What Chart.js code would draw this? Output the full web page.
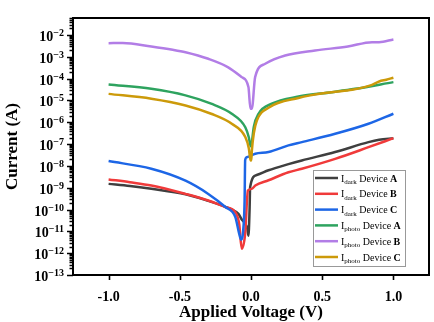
<!DOCTYPE html>
<html>
<head>
<meta charset="utf-8">
<script src="https://cdn.jsdelivr.net/npm/chart.js@4.4.0/dist/chart.umd.min.js"></script>
<style>
  html, body { margin: 0; padding: 0; background: #fff; }
</style>
</head>
<body>
<canvas id="ivChart" width="434" height="322"></canvas>
<script>
// I-V sweeps, voltage in V, current in A
const voltsDarkA = [-1.0, -0.85, -0.7, -0.46, -0.3, -0.2, -0.135, -0.088, -0.065, -0.045, -0.033, -0.025, -0.018, -0.01, -0.006, 0.04, 0.123, 0.263, 0.357, 0.591, 0.825, 0.9, 1.0];
const currDarkA  = [1.5e-9, 1.2e-9, 8.9e-10, 5.0e-10, 2.5e-10, 1.5e-10, 1.0e-10, 6.3e-11, 3.5e-11, 2.5e-11, 1.8e-11, 1.26e-11, 6.3e-12, 1.0e-10, 1.07e-9, 3.8e-9, 6.3e-9, 1.2e-8, 1.78e-8, 4.3e-8, 1.23e-7, 1.58e-7, 1.86e-7];

const voltsDarkB = [-1.0, -0.85, -0.7, -0.46, -0.3, -0.18, -0.11, -0.083, -0.065, -0.041, -0.022, 0.006, 0.03, 0.123, 0.263, 0.357, 0.591, 0.825, 1.0];
const currDarkB  = [2.4e-9, 1.78e-9, 1.26e-9, 5.2e-10, 2.6e-10, 1.3e-10, 7.6e-11, 2.2e-11, 1.6e-12, 7.8e-12, 7.4e-10, 8.9e-10, 1.26e-9, 2.2e-9, 5.1e-9, 7.4e-9, 2.1e-8, 7.2e-8, 1.86e-7];

const voltsDarkC = [-1.0, -0.7, -0.46, -0.3, -0.18, -0.11, -0.083, -0.069, -0.053, -0.045, -0.041, -0.03, 0.03, 0.123, 0.263, 0.357, 0.591, 0.825, 1.0];
const currDarkC  = [1.66e-8, 7.4e-9, 2.1e-9, 5.2e-10, 1.3e-10, 4.5e-11, 7.8e-12, 4.1e-12, 1.55e-11, 2.5e-10, 1.8e-8, 2.5e-8, 3.6e-8, 4.3e-8, 8.7e-8, 1.23e-7, 2.95e-7, 8.5e-7, 2.45e-6];

const voltsPhotoA = [-1.0, -0.7, -0.46, -0.28, -0.135, -0.04, -0.015, -0.002, 0.004, 0.02, 0.053, 0.146, 0.333, 0.567, 0.73, 1.0];
const currPhotoA  = [5.4e-5, 3.4e-5, 1.7e-5, 7.1e-6, 2.45e-6, 5.9e-7, 2.0e-7, 7.9e-8, 1.0e-7, 6.3e-7, 2.45e-6, 7.1e-6, 1.5e-5, 2.4e-5, 3.4e-5, 6.9e-5];

const voltsPhotoB = [-1.0, -0.9, -0.7, -0.55, -0.46, -0.3, -0.16, -0.065, -0.018, -0.004, 0.006, 0.029, 0.1, 0.24, 0.45, 0.68, 0.85, 0.9, 1.0];
const currPhotoB  = [4.2e-3, 4.3e-3, 2.95e-3, 2.1e-3, 1.62e-3, 8.1e-4, 3.3e-4, 1.17e-4, 4.1e-5, 4.2e-6, 4.2e-6, 1.17e-4, 4.8e-4, 1.15e-3, 1.95e-3, 2.95e-3, 4.7e-3, 4.7e-3, 6.2e-3];

const voltsPhotoC = [-1.0, -0.7, -0.46, -0.28, -0.135, -0.04, -0.015, -0.003, 0.002, 0.006, 0.02, 0.041, 0.123, 0.333, 0.567, 0.71, 0.85, 0.9, 0.95, 1.0];
const currPhotoC  = [2.0e-5, 1.2e-5, 5.9e-6, 2.45e-6, 8.5e-7, 2.1e-7, 6.3e-8, 1.78e-8, 1.78e-8, 5.0e-8, 3.2e-7, 1.2e-6, 4.6e-6, 1.3e-5, 2.4e-5, 3.1e-5, 5.2e-5, 7.4e-5, 8.9e-5, 1.1e-4];

const seriesKind   = ['dark', 'dark', 'dark', 'photo', 'photo', 'photo'];
const seriesDevice = ['A', 'B', 'C', 'A', 'B', 'C'];
const xTickValues  = [-1.0, -0.5, 0.0, 0.5, 1.0];
const yDecades     = [-13, -12, -11, -10, -9, -8, -7, -6, -5, -4, -3, -2];

const seriesVolts = [voltsDarkA, voltsDarkB, voltsDarkC, voltsPhotoA, voltsPhotoB, voltsPhotoC];
const seriesCurr  = [currDarkA, currDarkB, currDarkC, currPhotoA, currPhotoB, currPhotoC];
const colors = ['#3f3f3f', '#f03a3a', '#1d66e6', '#2ea35f', '#b27de6', '#cc9a0a'];

const SERIF = '"Liberation Serif", "Times New Roman", serif';

const datasets = seriesVolts.map((vs, i) => ({
  label: 'I' + seriesKind[i] + ' Device ' + seriesDevice[i],
  data: vs.map((v, k) => ({ x: v, y: seriesCurr[i][k] })),
  borderColor: colors[i],
  borderWidth: 2.5,
  pointRadius: 0,
  fill: false,
  cubicInterpolationMode: 'monotone',
  order: 6 - i   // later sweeps drawn on top
}));

// frame, tick marks, superscript decade labels and the legend box
const axisDecor = {
  id: 'axisDecor',
  afterDraw(chart) {
    const { ctx, chartArea: a, scales: { x, y } } = chart;
    ctx.save();

    ctx.strokeStyle = '#000';
    ctx.lineWidth = 1.3;
    ctx.beginPath();
    for (let e = -13; e <= -1; e++) {
      for (let m = 1; m <= 9; m++) {
        const v = m * Math.pow(10, e);
        if (v < y.min * 0.999 || v > y.max) continue;
        const py = Math.round(y.getPixelForValue(v)) + 0.5;
        const len = m === 1 ? 6 : 3.5;
        ctx.moveTo(a.left, py);
        ctx.lineTo(a.left - len, py);
      }
    }
    ctx.stroke();
    ctx.lineWidth = 1.6;
    ctx.beginPath();
    xTickValues.forEach(v => {
      const px = Math.round(x.getPixelForValue(v)) + 0.5;
      ctx.moveTo(px, a.bottom);
      ctx.lineTo(px, a.bottom + 5);
    });
    ctx.stroke();

    ctx.lineWidth = 2;
    ctx.strokeRect(a.left, a.top, a.right - a.left, a.bottom - a.top);

    // decade labels 10^n
    ctx.fillStyle = '#000';
    ctx.textBaseline = 'alphabetic';
    ctx.textAlign = 'left';
    const baseFont = 'bold 14px ' + SERIF;
    const supFont = 'bold 10px ' + SERIF;
    yDecades.forEach(e => {
      const py = y.getPixelForValue(Math.pow(10, e));
      const sup = '\u2212' + (-e);
      ctx.font = baseFont;
      const wBase = ctx.measureText('10').width;
      ctx.font = supFont;
      const wSup = ctx.measureText(sup).width;
      const x0 = a.left - 9 - wSup - wBase;
      ctx.font = baseFont;
      ctx.fillText('10', x0, py + 6);
      ctx.font = supFont;
      ctx.fillText(sup, x0 + wBase, py + 1);
    });

    // legend
    const bx = a.right - 116, by = a.top + 152, bw = 92, bh = 96;
    ctx.fillStyle = '#fff';
    ctx.fillRect(bx, by, bw, bh);
    ctx.strokeStyle = '#999';
    ctx.lineWidth = 1;
    ctx.strokeRect(bx + 0.5, by + 0.5, bw, bh);
    chart.data.datasets.forEach((ds, i) => {
      const cy = by + 8 + i * 15.8;
      ctx.strokeStyle = ds.borderColor;
      ctx.lineWidth = 2.5;
      ctx.beginPath();
      ctx.moveTo(bx + 2, cy);
      ctx.lineTo(bx + 25, cy);
      ctx.stroke();

      ctx.fillStyle = '#000';
      let tx = bx + 28;
      const base = cy + 3.5;
      ctx.font = '10px ' + SERIF;
      ctx.fillText('I', tx, base);
      tx += ctx.measureText('I').width;
      ctx.font = '7px ' + SERIF;
      ctx.fillText(seriesKind[i], tx, base + 2.5);
      tx += ctx.measureText(seriesKind[i]).width;
      ctx.font = '10px ' + SERIF;
      ctx.fillText(' Device ', tx, base);
      tx += ctx.measureText(' Device ').width;
      ctx.font = 'bold 10px ' + SERIF;
      ctx.fillText(seriesDevice[i], tx, base);
    });

    ctx.restore();
  }
};

new Chart(document.getElementById('ivChart'), {
  type: 'line',
  data: { datasets },
  plugins: [axisDecor],
  options: {
    responsive: false,
    animation: false,
    layout: { padding: { top: 18, right: 5, left: 0, bottom: 0 } },
    plugins: { legend: { display: false }, tooltip: { enabled: false } },
    scales: {
      x: {
        type: 'linear',
        min: -1.25,
        max: 1.25,
        afterBuildTicks: s => { s.ticks = xTickValues.map(v => ({ value: v })); },
        afterFit: s => { s.height = 47; },
        grid: { display: false, drawTicks: false },
        border: { display: false },
        ticks: {
          padding: 14,
          color: '#000',
          maxRotation: 0,
          font: { family: SERIF, size: 14, weight: 'bold' },
          callback: v => v.toFixed(1)
        },
        title: {
          display: true,
          text: 'Applied Voltage (V)',
          color: '#000',
          font: { family: SERIF, size: 17, weight: 'bold', lineHeight: 1 },
          padding: { top: 0, bottom: 1 }
        }
      },
      y: {
        type: 'logarithmic',
        min: 1e-13,
        max: 0.06,
        afterFit: s => { s.width = 73; },
        grid: { display: false, drawTicks: false },
        border: { display: false },
        ticks: { display: false },
        title: {
          display: true,
          text: 'Current (A)',
          color: '#000',
          font: { family: SERIF, size: 17, weight: 'bold' },
          padding: { top: 2, bottom: 0 }
        }
      }
    }
  }
});
</script>
</body>
</html>
